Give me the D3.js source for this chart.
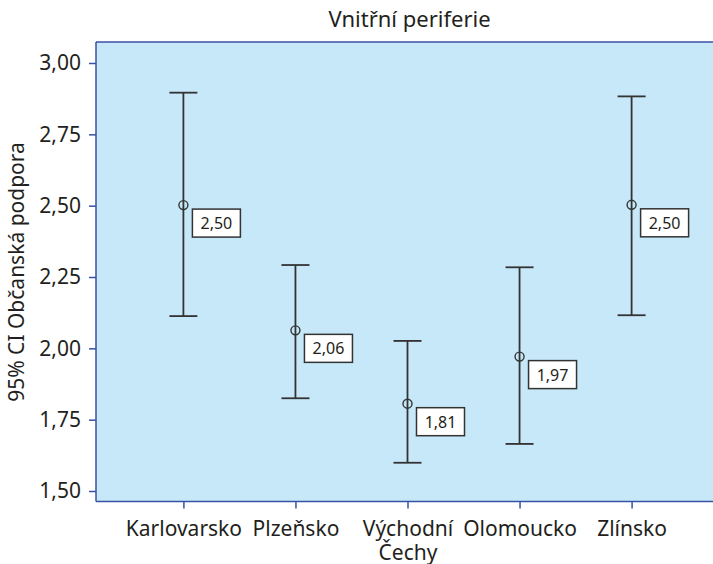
<!DOCTYPE html>
<html>
<head>
<meta charset="utf-8">
<script src="https://d3js.org/d3.v7.min.js"></script>
<style>
  body { margin: 0; background: #fff; }
  text { font-family: "Noto Sans", sans-serif; fill: #231f20; }
</style>
</head>
<body>
<svg id="chart" width="713" height="564"></svg>
<script>
  // values
  const regions = ["Karlovarsko", "Plzeňsko", "Východní Čechy", "Olomoucko", "Zlínsko"];
  const means = [2.502, 2.063, 1.806, 1.971, 2.503];
  const lower = [2.113, 1.825, 1.599, 1.665, 2.116];
  const upper = [2.896, 2.292, 2.026, 2.284, 2.883];
  const yTicks = [1.50, 1.75, 2.00, 2.25, 2.50, 2.75, 3.00];

  const data = regions.map((r, i) => ({ region: r, mean: means[i], lo: lower[i], hi: upper[i] }));

  const svg = d3.select("#chart");
  const plot = { left: 96, top: 42, right: 719, bottom: 501.5 };
  const axisColor = "#3a52a4";
  const ink = "#333";

  const x = d3.scalePoint()
    .domain(regions)
    .range([plot.left, plot.right])
    .padding(0.78);

  const y = d3.scaleLinear()
    .domain([1.5, 3.0])
    .range([491, 63]);

  const fmt = v => d3.format(".2f")(v).replace(".", ",");

  // plot background
  svg.append("rect")
    .attr("x", plot.left)
    .attr("y", plot.top)
    .attr("width", plot.right - plot.left)
    .attr("height", plot.bottom - plot.top)
    .attr("fill", "#c6e8f8");

  // top border
  svg.append("line")
    .attr("x1", plot.left).attr("x2", plot.right)
    .attr("y1", plot.top).attr("y2", plot.top)
    .attr("stroke", axisColor).attr("stroke-width", 1.5);

  // y axis
  const yAxis = svg.append("g")
    .attr("transform", `translate(${plot.left},0)`)
    .call(d3.axisLeft(y).tickValues(yTicks).tickFormat(fmt).tickSize(7).tickPadding(8));
  yAxis.select(".domain").remove();
  yAxis.append("line")
    .attr("y1", plot.top).attr("y2", plot.bottom)
    .attr("stroke", axisColor).attr("stroke-width", 1.5);
  yAxis.selectAll(".tick line").attr("stroke", axisColor).attr("stroke-width", 1.5);
  yAxis.selectAll(".tick text")
    .attr("font-size", 21)
    .style("font-family", "'Noto Sans', sans-serif")
    .attr("fill", "#231f20");

  // x axis
  const xAxis = svg.append("g")
    .attr("transform", `translate(0,${plot.bottom})`)
    .call(d3.axisBottom(x).tickSize(7));
  xAxis.select(".domain").remove();
  xAxis.append("line")
    .attr("x1", plot.left).attr("x2", plot.right)
    .attr("stroke", axisColor).attr("stroke-width", 1.5);
  xAxis.selectAll(".tick line").attr("stroke", axisColor).attr("stroke-width", 1.5);
  xAxis.selectAll(".tick text")
    .attr("font-size", 21)
    .style("font-family", "'Noto Sans', sans-serif")
    .attr("fill", "#231f20")
    .attr("y", 34)
    .attr("dy", null)
    .each(function (d) {
      const words = d.split(" ");
      if (words.length > 1) {
        const t = d3.select(this).text(null);
        words.forEach((w, i) => {
          t.append("tspan").attr("x", 0).attr("dy", i === 0 ? 0 : 24).text(w);
        });
      }
    });

  // y axis title
  svg.append("text")
    .attr("transform", `translate(24,${272}) rotate(-90)`)
    .attr("text-anchor", "middle")
    .attr("font-size", 21)
    .text("95% CI Občanská podpora");

  // chart title
  svg.append("text")
    .attr("x", 409.5)
    .attr("y", 26.5)
    .attr("text-anchor", "middle")
    .attr("font-size", 22)
    .text("Vnitřní periferie");

  // error bars
  const bars = svg.append("g").selectAll(".bar").data(data).enter().append("g").attr("class", "bar");

  bars.append("line")
    .attr("x1", d => x(d.region)).attr("x2", d => x(d.region))
    .attr("y1", d => y(d.hi)).attr("y2", d => y(d.lo))
    .attr("stroke", ink).attr("stroke-width", 1.8);

  bars.selectAll(".cap")
    .data(d => [d.hi, d.lo].map(v => ({ region: d.region, v })))
    .enter().append("line")
    .attr("class", "cap")
    .attr("x1", d => x(d.region) - 14).attr("x2", d => x(d.region) + 14)
    .attr("y1", d => y(d.v)).attr("y2", d => y(d.v))
    .attr("stroke", ink).attr("stroke-width", 1.8);

  bars.append("circle")
    .attr("cx", d => x(d.region))
    .attr("cy", d => y(d.mean))
    .attr("r", 4.5)
    .attr("fill", "none")
    .attr("stroke", ink)
    .attr("stroke-width", 1.4);

  // value labels
  bars.append("rect")
    .attr("x", d => x(d.region) + 9)
    .attr("y", d => y(d.mean) + 4)
    .attr("width", 48)
    .attr("height", 28)
    .attr("fill", "#fff")
    .attr("stroke", ink)
    .attr("stroke-width", 1.5);

  bars.append("text")
    .attr("x", d => x(d.region) + 33)
    .attr("y", d => y(d.mean) + 24)
    .attr("text-anchor", "middle")
    .attr("font-size", 16)
    .text(d => fmt(d.mean));
</script>
</body>
</html>
